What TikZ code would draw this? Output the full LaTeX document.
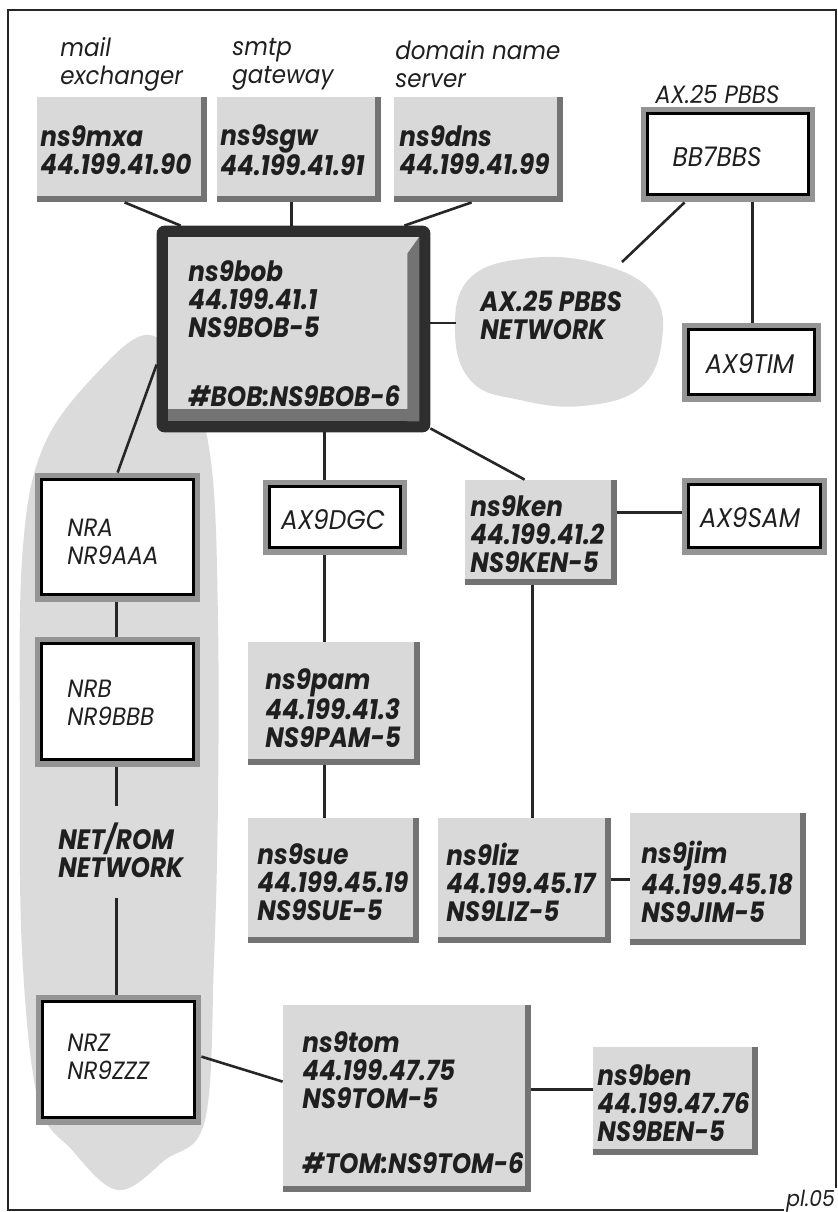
\documentclass[tikz,border=0pt]{standalone}
\usepackage{fontspec}
\setmainfont{Poppins}[ItalicFeatures={FakeStretch=0.92}, BoldItalicFeatures={FakeStretch=0.88}]
\usetikzlibrary{fit,calc}
\tikzset{
  x=0.5pt, y=-0.5pt,
  conn/.style={line width=1.3pt, black!85},
  boxfill/.style={fill=black!15},
  shadefill/.style={fill=black!55},
  ringfill/.style={fill=black!42},
  cloudfill/.style={fill=black!14},
  boldtxt/.style={font=\fontsize{14}{14}\selectfont\bfseries\itshape, anchor=west, inner sep=0pt, align=left, text=black!88},
  lighttxt/.style={font=\fontsize{12.5}{14}\selectfont\itshape, anchor=west, inner sep=0pt, align=left, text=black!88},
  ctrtxt/.style={font=\fontsize{13.5}{14}\selectfont\itshape, inner sep=0pt, align=left, text=black!88},
  frame/.style={line width=1pt, black!85},
}
\newcommand\shadedbox[3]{%
  \node[fit={#2 #3}, inner sep=0pt] (#1) {};
  \fill[boxfill] (#1.north west) rectangle (#1.south east);
  \fill[shadefill] ([xshift=-3pt]#1.north east) rectangle (#1.south east);
  \fill[shadefill] ([yshift=3pt]#1.south west) rectangle (#1.south east);}
\newcommand\whitebox[3]{%
  \node[fit={#2 #3}, inner sep=0pt] (#1) {};
  \fill[ringfill] (#1.north west) rectangle (#1.south east);
  \draw[line width=1.3pt, fill=white] ([xshift=3.5pt,yshift=-3.5pt]#1.north west) rectangle ([xshift=-3.5pt,yshift=4pt]#1.south east);}
\begin{document}
\begin{tikzpicture}
\useasboundingbox (0,0) rectangle (837,1212);
% frame
\draw[frame] (8,10) rectangle (836,1210);

% clouds
\fill[cloudfill] plot[smooth cycle, tension=0.7] coordinates {(470,278) (530,258) (600,264) (652,292) (662,340) (640,388) (582,406) (520,400) (472,382) (455,332)};
\fill[cloudfill] plot[smooth cycle, tension=0.6] coordinates {(150,335) (192,390) (212,470) (218,620) (218,800) (214,960) (205,1120) (165,1160) (118,1190) (72,1150) (38,1100) (22,950) (20,760) (22,560) (42,450) (95,375)};

% top labels
\node[lighttxt] (lmx) at (60,64) {mail\\exchanger};
\node[lighttxt] (lsg) at (232,64) {smtp\\gateway};
\node[lighttxt] (ldn) at (395,64) {domain name\\server};
\node[lighttxt] (lbb) at (655,94) {AX.25 PBBS};

% top boxes
\shadedbox{mxa}{(37,97)}{(207,202)}
\shadedbox{sgw}{(217,97)}{(381,202)}
\shadedbox{dns}{(394,97)}{(563,202)}
\node[boldtxt] (tmxa) at (40,150) {ns9mxa\\44.199.41.90};
\node[boldtxt] (tsgw) at (220,150) {ns9sgw\\44.199.41.91};
\node[boldtxt] (tdns) at (399,150) {ns9dns\\44.199.41.99};

% BBS
\whitebox{bb}{(641,107)}{(815,202)}
\node[ctrtxt] (tbb) at (717,157) {BB7BBS};
\whitebox{tim}{(682,323)}{(821,402)}
\node[ctrtxt] (ttim) at (750,364) {AX9TIM};
\node[boldtxt] (tcloud) at (480,315) {AX.25 PBBS\\NETWORK};
\coordinate (cloudtip) at (622,262);
\coordinate (cloudwest) at (456,323);

% main node
\node[fit={(157,226) (430,432)}, inner sep=0pt] (bob) {};
\fill[black!82, rounded corners=4pt] (bob.north west) rectangle (bob.south east);
\fill[black!15] ([xshift=5.5pt,yshift=-5.5pt]bob.north west) rectangle ([xshift=-5.5pt,yshift=5.5pt]bob.south east);
\fill[black!55] ([xshift=5.5pt,yshift=11.5pt]bob.south west) rectangle ([xshift=-5.5pt,yshift=5.5pt]bob.south east);
\fill[black!55] ([xshift=-11.5pt,yshift=-14pt]bob.north east) -- ([xshift=-5.5pt,yshift=-5.5pt]bob.north east) -- ([xshift=-5.5pt,yshift=5.5pt]bob.south east) -- ([xshift=-11.5pt,yshift=5.5pt]bob.south east) -- cycle;
\node[boldtxt] (tbob) at (188,299) {ns9bob\\44.199.41.1\\NS9BOB-5};
\node[boldtxt] (tbob2) at (188,396) {\#BOB:NS9BOB-6};

% middle
\whitebox{dgc}{(263,480)}{(407,555)}
\node[ctrtxt] (tdgc) at (333,520) {AX9DGC};
\shadedbox{ken}{(465,480)}{(617,585)}
\node[boldtxt] (tken) at (470,534) {ns9ken\\44.199.41.2\\NS9KEN-5};
\whitebox{sam}{(682,478)}{(827,555)}
\node[ctrtxt] (tsam) at (750,518) {AX9SAM};
\whitebox{nra}{(35,473)}{(200,602)}
\node[lighttxt] (tnra) at (67,542) {NRA\\NR9AAA};
\whitebox{nrb}{(35,637)}{(200,767)}
\node[lighttxt] (tnrb) at (67,703) {NRB\\NR9BBB};
\shadedbox{pam}{(248,642)}{(420,765)}
\node[boldtxt] (tpam) at (265,708) {ns9pam\\44.199.41.3\\NS9PAM-5};
\node[boldtxt] (netrom) at (58,850) {NET/ROM\\NETWORK};

% lower row
\shadedbox{sue}{(248,818)}{(419,943)}
\node[boldtxt] (tsue) at (257,882) {ns9sue\\44.199.45.19\\NS9SUE-5};
\shadedbox{liz}{(438,818)}{(611,943)}
\node[boldtxt] (tliz) at (446,882) {ns9liz\\44.199.45.17\\NS9LIZ-5};
\shadedbox{jim}{(630,813)}{(806,945)}
\node[boldtxt] (tjim) at (641,882) {ns9jim\\44.199.45.18\\NS9JIM-5};

% bottom
\whitebox{nrz}{(36,995)}{(201,1125)}
\node[lighttxt] (tnrz) at (67,1057) {NRZ\\NR9ZZZ};
\shadedbox{tom}{(283,1005)}{(531,1192)}
\node[boldtxt] (ttom) at (302,1070) {ns9tom\\44.199.47.75\\NS9TOM-5};
\node[boldtxt] (ttom2) at (302,1163) {\#TOM:NS9TOM-6};
\shadedbox{ben}{(593,1047)}{(758,1155)}
\node[boldtxt] (tben) at (597,1103) {ns9ben\\44.199.47.76\\NS9BEN-5};

\node[lighttxt, font=\fontsize{11}{12}\selectfont\itshape, anchor=base west, fill=white, inner sep=1pt] (pl) at (784,1206) {pl.05};

% connectors
\draw[conn] ($(mxa.south west)+(88,0)$) -- ($(bob.north west)+(24,0)$);
\draw[conn] ($(sgw.south west)+(75,0)$) coordinate (s1) -- (s1 |- bob.north);
\draw[conn] ($(dns.south west)+(78,0)$) -- ($(bob.north east)+(-26,0)$);
\draw[conn] ($(bb.south west)+(44,0)$) -- (cloudtip);
\draw[conn] ($(bb.south west)+(112,0)$) coordinate (s2) -- (s2 |- tim.north);
\draw[conn] (bob.east |- cloudwest) -- (cloudwest);
\draw[conn] ($(bob.south east)+(0,-4)$) -- ($(ken.north west)+(60,0)$);
\draw[conn] ($(ken.north east)+(0,33)$) coordinate (s3) -- (s3 -| sam.west);
\draw[conn] ($(ken.south west)+(68,0)$) coordinate (s4) -- (s4 |- liz.north);
\draw[conn] ($(bob.south west)+(168,0)$) coordinate (s5) -- (s5 |- dgc.north);
\draw[conn] ($(dgc.south west)+(62,0)$) coordinate (s6) -- (s6 |- pam.north);
\draw[conn] ($(pam.south west)+(77,0)$) coordinate (s7) -- (s7 |- sue.north);
\draw[conn] ($(liz.north east)+(0,62)$) coordinate (s8) -- (s8 -| jim.west);
\draw[conn] ($(bob.north west)+(0,139)$) -- ($(nra.north west)+(83,0)$);
\draw[conn] ($(nra.south west)+(82,0)$) coordinate (s9) -- (s9 |- nrb.north);
\coordinate (s10) at ($(nrb.south west)+(82,0)$);
\draw[conn] (s10) -- ($(s10 |- netrom.north)+(0,-16)$);
\draw[conn] ($(s10 |- netrom.south)+(0,20)$) -- (s10 |- nrz.north);
\draw[conn] ($(nrz.north east)+(0,62)$) -- ($(tom.north west)+(0,77)$);
\draw[conn] ($(tom.north east)+(0,85)$) coordinate (s12) -- (s12 -| ben.west);
\end{tikzpicture}
\end{document}
